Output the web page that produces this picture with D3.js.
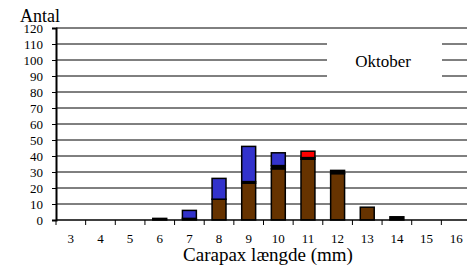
<!DOCTYPE html>
<html>
<head>
<meta charset="utf-8">
<script src="https://cdn.jsdelivr.net/npm/d3@7"></script>
<style>
  body { margin: 0; background: #fff; }
</style>
</head>
<body>
<div id="chart"></div>
<script>
// carapax length classes (mm)
var categories = ["3", "4", "5", "6", "7", "8", "9", "10", "11", "12", "13", "14", "15", "16"];
// stacked series, bottom to top
var brownVals = [0, 0, 0, 0, 0, 13, 23, 32, 38, 29, 8, 0, 0, 0];
var blackVals = [0, 0, 0, 1, 1, 0, 1, 2, 1, 2, 0, 2, 0, 0];
var blueVals  = [0, 0, 0, 0, 5, 13, 22, 8, 0, 0, 0, 0, 0, 0];
var redVals   = [0, 0, 0, 0, 0, 0, 0, 0, 4, 0, 0, 0, 0, 0];
var seriesNames = ["brown", "black", "blue", "red"];
var seriesColors = ["#663300", "#000000", "#3333cc", "#ff0000"];
var yTicks = [0, 10, 20, 30, 40, 50, 60, 70, 80, 90, 100, 110, 120];

var serif = "'Liberation Serif', 'Times New Roman', serif";
var width = 467, height = 268;
var margin = {left: 56, right: -4, top: 28, bottom: 48};

var svg = d3.select("#chart").append("svg")
    .attr("width", width)
    .attr("height", height)
    .attr("font-family", serif);

var rows = categories.map(function(c, i) {
    return {cat: c, brown: brownVals[i], black: blackVals[i], blue: blueVals[i], red: redVals[i]};
});

var x = d3.scaleBand()
    .domain(categories)
    .range([margin.left, width - margin.right])
    .paddingInner(0.53)
    .paddingOuter(0.265);

var y = d3.scaleLinear()
    .domain([0, 120])
    .range([height - margin.bottom, margin.top]);

// gridlines
svg.append("g")
    .selectAll("line")
    .data(yTicks.slice(1))
    .enter().append("line")
    .attr("x1", margin.left)
    .attr("x2", width)
    .attr("y1", function(d) { return y(d); })
    .attr("y2", function(d) { return y(d); })
    .attr("stroke", "#000")
    .attr("stroke-width", 1);

// legend / title box
svg.append("rect")
    .attr("x", 327).attr("y", 31)
    .attr("width", 115).attr("height", 54)
    .attr("fill", "#fff");
svg.append("text")
    .attr("x", 383).attr("y", 67)
    .attr("text-anchor", "middle")
    .style("font-family", serif)
    .style("font-size", "17px")
    .text("Oktober");

// stacked bars
var stack = d3.stack().keys(seriesNames);
var layers = stack(rows);

svg.append("g")
    .selectAll("g")
    .data(layers)
    .enter().append("g")
    .attr("fill", function(d, i) { return seriesColors[i]; })
    .selectAll("rect")
    .data(function(d) { return d.filter(function(p) { return p[1] - p[0] > 0; }); })
    .enter().append("rect")
    .attr("x", function(d) { return x(d.data.cat); })
    .attr("width", x.bandwidth())
    .attr("y", function(d) { return y(d[1]); })
    .attr("height", function(d) { return y(d[0]) - y(d[1]); })
    .attr("stroke", "#000")
    .attr("stroke-width", 1.5);

// y axis
var yAxis = d3.axisLeft(y).tickValues(yTicks).tickSize(4).tickPadding(9);
var gy = svg.append("g")
    .attr("transform", "translate(" + margin.left + ",0)")
    .call(yAxis)
    .attr("font-family", serif);
gy.select(".domain").attr("stroke", "#000").attr("stroke-width", 2);
gy.selectAll("text").style("font-family", serif).style("font-size", "13px");

// x axis baseline and boundary ticks
var base = y(0);
svg.append("line")
    .attr("x1", margin.left).attr("x2", width)
    .attr("y1", base).attr("y2", base)
    .attr("stroke", "#000").attr("stroke-width", 1.5);

var step = x.step();
svg.append("g")
    .selectAll("line")
    .data(categories)
    .enter().append("line")
    .attr("x1", function(d) { return x(d) + x.bandwidth() / 2 - step / 2; })
    .attr("x2", function(d) { return x(d) + x.bandwidth() / 2 - step / 2; })
    .attr("y1", base).attr("y2", base + 5)
    .attr("stroke", "#000");

svg.append("g")
    .selectAll("text")
    .data(categories)
    .enter().append("text")
    .attr("x", function(d) { return x(d) + x.bandwidth() / 2; })
    .attr("y", 243)
    .attr("text-anchor", "middle")
    .style("font-family", serif)
    .style("font-size", "13px")
    .text(function(d) { return d; });

// axis titles
svg.append("text")
    .attr("x", 20).attr("y", 22)
    .style("font-family", serif)
    .style("font-size", "18px")
    .text("Antal");

svg.append("text")
    .attr("x", 268).attr("y", 261)
    .attr("text-anchor", "middle")
    .style("font-family", serif)
    .style("font-size", "19px")
    .text("Carapax længde (mm)");
</script>
</body>
</html>
